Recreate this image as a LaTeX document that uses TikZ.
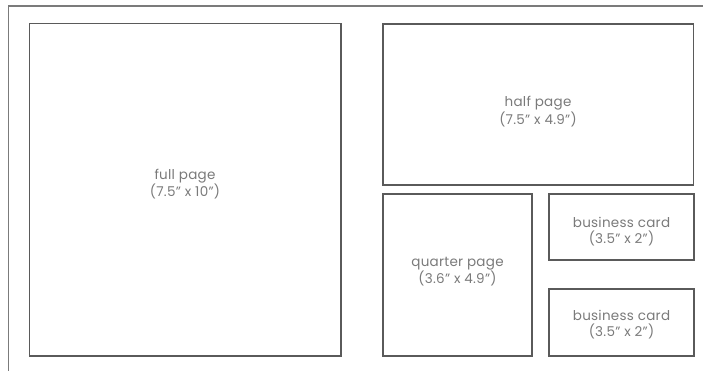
\documentclass[tikz,border=0pt]{standalone}
\usepackage{fontspec}
\setmainfont{Poppins}[LetterSpace=2]
\definecolor{edge}{HTML}{5A5A5A}
\definecolor{txt}{HTML}{7A7A7A}
\begin{document}
\begin{tikzpicture}[x=1pt,y=-1pt,
  boxst/.style={draw=edge,line width=1.4pt},
  lbl/.style={text=txt,font=\fontsize{13.5}{16}\selectfont,align=center,inner sep=0pt}]
\useasboundingbox (0,0) rectangle (703,371);
\coordinate (fl) at (8.5,371);
\coordinate (fc) at (8.5,6);
\coordinate (fr) at (703,6);
\draw[draw=edge!80,line width=1.2pt] (fl) -- (fc) -- (fr);
\draw[boxst] (29.5,23.5) rectangle (341,356);
\node[lbl] (fulltxt) at (185,184) {full page\\(7.5" x 10”)};
\draw[boxst] (383,24) rectangle (693.5,185);
\node[lbl] (halftxt) at (538,111.5) {half page\\(7.5" x 4.9”)};
\draw[boxst] (383,194) rectangle (532,356);
\node[lbl] (quartxt) at (457.5,271.5) {quarter page\\(3.6" x 4.9”)};
\draw[boxst] (549,194) rectangle (694,260);
\node[lbl] (bc1txt) at (621.5,231.5) {business card\\(3.5" x 2”)};
\draw[boxst] (549,289) rectangle (694,356);
\node[lbl] (bc2txt) at (621.5,325) {business card\\(3.5" x 2”)};
\end{tikzpicture}
\end{document}
